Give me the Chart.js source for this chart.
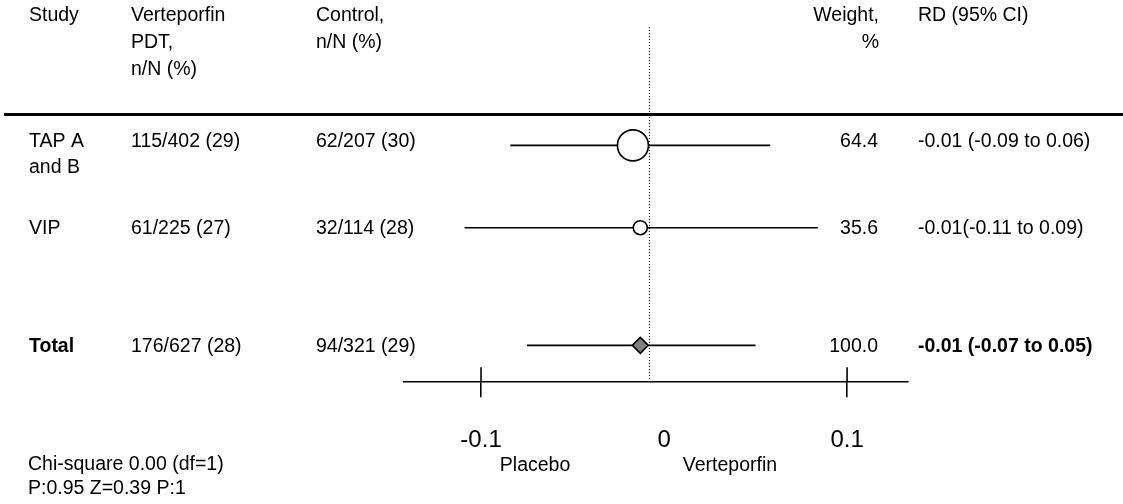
<!DOCTYPE html>
<html>
<head>
<meta charset="utf-8">
<title>Forest plot</title>
<script src="https://cdn.jsdelivr.net/npm/chart.js@4.4.1/dist/chart.umd.min.js"></script>
<style>
	html, body { margin: 0; padding: 0; background: #fff; }
	#wrap { width: 1123px; height: 504px; }
</style>
</head>
<body>
<div id="wrap"><canvas id="forest" width="1123" height="504"></canvas></div>
<script>
// table columns
const studies = ['TAP A\nand B', 'VIP', 'Total'];
const treatedN = ['115/402 (29)', '61/225 (27)', '176/627 (28)'];
const controlN = ['62/207 (30)', '32/114 (28)', '94/321 (29)'];
const weights = ['64.4', '35.6', '100.0'];
const rdText = ['-0.01 (-0.09 to 0.06)', '-0.01(-0.11 to 0.09)', '-0.01 (-0.07 to 0.05)'];

// risk differences as drawn on the plot
const rdPoint = [-0.017, -0.013, -0.013];
const ciLow = [-0.084, -0.109, -0.075];
const ciHigh = [0.058, 0.084, 0.050];
const xTicks = [-0.1, 0, 0.1];
const nullLine = -0.008;

// layout (row slots on the hidden y scale)
const rowPos = [1, 2, 3.43];
const yMin = -0.439, yMax = 3.878;
const summaryRow = 2;
const FONT = '"Liberation Sans", Arial, sans-serif';

Chart.defaults.font.family = FONT;
Chart.defaults.color = '#000';

const datasets = [];

// study markers (open circles) and pooled diamond
datasets.push({
	label: 'studies',
	data: [0, 1].map(i => ({x: rdPoint[i], y: rowPos[i]})),
	pointStyle: 'circle',
	pointRadius: [15.5, 7],
	pointBackgroundColor: '#fff',
	pointBorderColor: '#000',
	pointBorderWidth: 1.6,
	showLine: false,
	clip: false,
	order: 0
});
datasets.push({
	label: 'total',
	data: [{x: rdPoint[summaryRow], y: rowPos[summaryRow]}],
	pointStyle: 'rectRot',
	pointRadius: 8,
	pointBackgroundColor: '#808080',
	pointBorderColor: '#000',
	pointBorderWidth: 1.6,
	showLine: false,
	clip: false,
	order: 0
});

// confidence intervals
rowPos.forEach((r, i) => {
	datasets.push({
		label: 'ci' + i,
		data: [{x: ciLow[i], y: r}, {x: ciHigh[i], y: r}],
		showLine: true,
		borderColor: '#000',
		borderWidth: 1.6,
		pointRadius: 0,
		order: 1
	});
});

// line of no effect
datasets.push({
	label: 'null',
	data: [{x: nullLine, y: yMin}, {x: nullLine, y: yMax}],
	showLine: true,
	borderColor: '#000',
	borderWidth: 1,
	borderDash: [1, 2],
	pointRadius: 0,
	clip: false,
	order: 2
});

// draws the table text, header rule, upper halves of the ticks and footers
const tablePlugin = {
	id: 'forestTable',
	afterDraw(chart) {
		const {ctx, scales: {x, y}} = chart;
		const normal = '19.5px ' + FONT;
		const bold = 'bold 19.5px ' + FONT;
		ctx.save();
		ctx.fillStyle = '#000';
		ctx.strokeStyle = '#000';
		ctx.textBaseline = 'middle';

		const put = (txt, px, py, align, font) => {
			ctx.font = font || normal;
			ctx.textAlign = align || 'left';
			ctx.fillText(txt, px, py);
		};

		// header
		put('Study', 29, 16);
		put('Verteporfin', 131, 16);
		put('PDT,', 131, 43);
		put('n/N (%)', 131, 70);
		put('Control,', 316, 16);
		put('n/N (%)', 316, 43);
		put('Weight,', 879, 16, 'right');
		put('%', 879, 43, 'right');
		put('RD (95% CI)', 918, 16);

		ctx.fillRect(4, 113, 1119, 3);

		// rows
		rowPos.forEach((r, i) => {
			const lines = studies[i].split('\n');
			const py = y.getPixelForValue(r) + (lines.length > 1 ? -4 : 1);
			const f = i === summaryRow ? bold : normal;
			lines.forEach((ln, k) => put(ln, 29, py + k * 26, 'left', f));
			put(treatedN[i], 131, py);
			put(controlN[i], 316, py);
			put(weights[i], 878, py, 'right');
			put(rdText[i], 918, py, 'left', f);
		});

		// tick marks cross the axis line
		ctx.lineWidth = 1.6;
		xTicks.filter(v => v !== 0).forEach(v => {
			const px = x.getPixelForValue(v);
			ctx.beginPath();
			ctx.moveTo(px, x.top - 15);
			ctx.lineTo(px, x.top);
			ctx.stroke();
		});

		// favours labels
		put('Placebo', x.getPixelForValue(-0.0705), 466, 'center');
		put('Verteporfin', x.getPixelForValue(0.036), 466, 'center');

		// heterogeneity
		put('Chi-square 0.00 (df=1)', 28, 465);
		put('P:0.95 Z=0.39 P:1', 28, 489);
		ctx.restore();
	}
};

new Chart(document.getElementById('forest'), {
	type: 'scatter',
	data: {datasets},
	plugins: [tablePlugin],
	options: {
		responsive: false,
		animation: false,
		layout: {padding: {top: 27, left: 404, right: 215, bottom: 20}},
		plugins: {legend: {display: false}, tooltip: {enabled: false}},
		scales: {
			x: {
				type: 'linear',
				min: -0.1421,
				max: 0.1333,
				afterBuildTicks: scale => { scale.ticks = xTicks.map(v => ({value: v})); },
				border: {display: true, color: '#000', width: 1.6},
				grid: {
					drawOnChartArea: false,
					drawTicks: true,
					tickLength: 15,
					lineWidth: 1.6,
					tickColor: c => (c.tick && c.tick.value === 0) ? 'rgba(0,0,0,0)' : '#000'
				},
				ticks: {
					font: {size: 24},
					color: '#000',
					padding: 29,
					maxRotation: 0,
					callback: v => String(v)
				}
			},
			y: {
				type: 'linear',
				display: false,
				reverse: true,
				min: yMin,
				max: yMax
			}
		}
	}
});
</script>
</body>
</html>
